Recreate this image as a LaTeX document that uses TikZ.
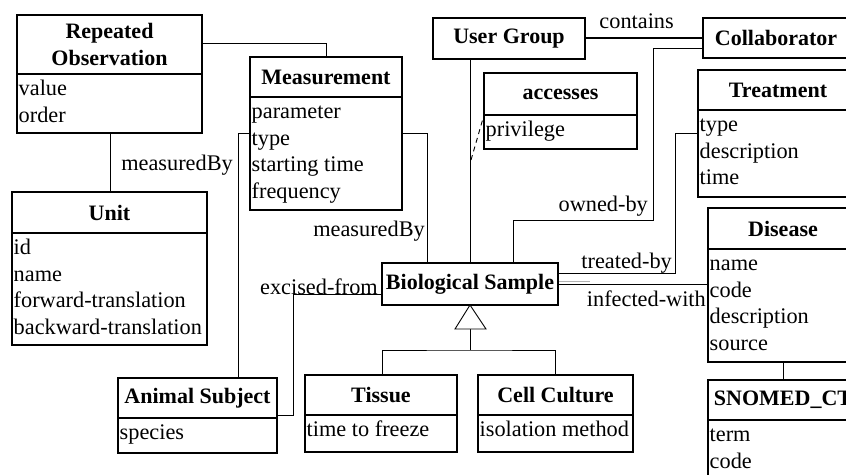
\documentclass[tikz,border=0pt]{standalone}
\usepackage{fontspec}
\setmainfont{Liberation Serif}
\usetikzlibrary{backgrounds}
\tikzset{
  box/.style={draw, line width=1.2pt, fill=white, anchor=north west, inner sep=0pt, outer sep=0pt},
  conn/.style={line width=0.9pt},
  ttl/.style={font=\fontsize{22}{27}\selectfont\bfseries, inner sep=0pt, align=center},
  attr/.style={font=\fontsize{22.3}{27}\selectfont, inner sep=0pt, anchor=base west},
  lbl/.style={font=\fontsize{22.3}{27}\selectfont, inner sep=0pt, anchor=base east},
}
% class with compartments: name, x1, y1, x2, ydiv, y2, title, attributes
\newcommand\umlcls[8]{%
  \node[box, minimum width={#4-#2}, minimum height={#6-#3}] (#1) at (#2,#3) {};
  \draw[line width=1.2pt] (#2,#5) -- (#4,#5);
  \node[ttl] (#1-t) at ({(#2+#4)/2},{(#3+#5)/2}) {#7};
  \foreach \t [count=\i] in {#8}
    \node[attr] (#1-a\i) at ({#2+1.5},{#5+21.5+(\i-1)*26.5}) {\t};
}
% simple class: name, x1, y1, x2, y2, title
\newcommand\umlsim[6]{%
  \node[box, minimum width={#4-#2}, minimum height={#5-#3}] (#1) at (#2,#3) {};
  \node[ttl] (#1-t) at ({(#2+#4)/2},{(#3+#5)/2}) {#6};
}
\begin{document}
\begin{tikzpicture}[x=1pt,y=-1pt]
\path[use as bounding box, clip] (0,0) rectangle (846,474);

\umlcls{ro}{17}{15}{202}{74}{133}{Repeated\\Observation}{value,order}
\umlcls{meas}{250}{57}{402}{97}{210}{Measurement}{parameter,type,starting time,frequency}
\umlcls{unit}{12}{192}{207}{233}{345}{Unit}{id,name,forward-translation,backward-translation}
\umlsim{ug}{433}{18}{585}{59}{User Group}
\umlsim{coll}{703}{18}{849}{58}{Collaborator}
\umlcls{acc}{484}{73}{637}{115}{149}{accesses}{privilege}
\umlcls{treat}{698}{70}{858}{110}{197}{Treatment}{type,description,time}
\umlcls{dis}{708}{208}{858}{249}{362}{Disease}{name,code,description,source}
\umlcls{snomed}{708}{380}{858}{420}{500}{SNOMED\_CT}{term,code}
\umlsim{bio}{382}{263}{558}{305}{Biological Sample}
\umlcls{anim}{118}{378}{277}{418}{453}{Animal Subject}{species}
\umlcls{tissue}{305}{375}{457}{415}{452}{Tissue}{time to freeze}
\umlcls{cell}{478}{375}{633}{415}{452}{Cell Culture}{isolation method}

\coordinate (accj) at (471,160);
\coordinate (gbase) at (470,329);
\coordinate (gjoin) at (470,350);

\begin{pgfonlayer}{background}
  \fill[white] (0,0) rectangle (846,474);
  % Repeated Observation -- Measurement
  \draw[conn] (ro.east |- 0,43) -| (meas.north -| 326,0);
  % Repeated Observation -- Unit
  \draw[conn] (ro.south -| 110,0) -- (unit.north -| 110,0);
  % Animal Subject -- Biological Sample (measuredBy)
  \draw[conn] (anim.north -| 238,0) |- (427,133) -- (bio.north -| 427,0);
  % User Group -- Biological Sample
  \draw[conn] (ug.south -| 470,0) -- (bio.north -| 470,0);
  % association class
  \draw[conn, dash pattern=on 5pt off 4pt] (accj) -- (acc.west |- 0,115);
  % contains
  \draw[line width=1.4pt] (ug.east |- 0,38) -- (coll.west |- 0,38);
  % owned-by
  \draw[conn] (coll.west |- 0,48) -| (653,220) -| (bio.north -| 513,0);
  % treated-by
  \draw[conn] (bio.east |- 0,273) -| (675,133) -- (treat.west |- 0,133);
  % infected-with
  \draw[conn] (bio.east |- 0,284.5) -- (dis.west |- 0,284.5);
  \draw[line width=0.8pt, gray!60] (bio.east |- 0,281) -- (590,281);
  % Disease -- SNOMED_CT
  \draw[conn] (dis.south -| 783,0) -- (snomed.north -| 783,0);
  % excised-from
  \draw[conn] (bio.west |- 0,294) -| (293,415) -- (anim.east |- 0,415);
  % generalization
  \draw[conn] (gbase) -- (gjoin);
  \draw[conn] (tissue.north -| 382,0) |- (gjoin) -| (cell.north -| 555,0);
\end{pgfonlayer}
\draw[conn, fill=white] (bio.south -| 470,0) -- (455,329) -- (486,329) -- cycle;

\node[lbl] (l1) at (233,170) {measuredBy};
\node[lbl] (l2) at (425,236) {measuredBy};
\node[lbl] (l3) at (674,28) {contains};
\node[lbl] (l4) at (648,211) {owned-by};
\node[lbl] (l5) at (672,268) {treated-by};
\node[lbl] (l6) at (706,306) {infected-with};
\node[lbl] (l7) at (378,294) {excised-from};
\end{tikzpicture}
\end{document}
